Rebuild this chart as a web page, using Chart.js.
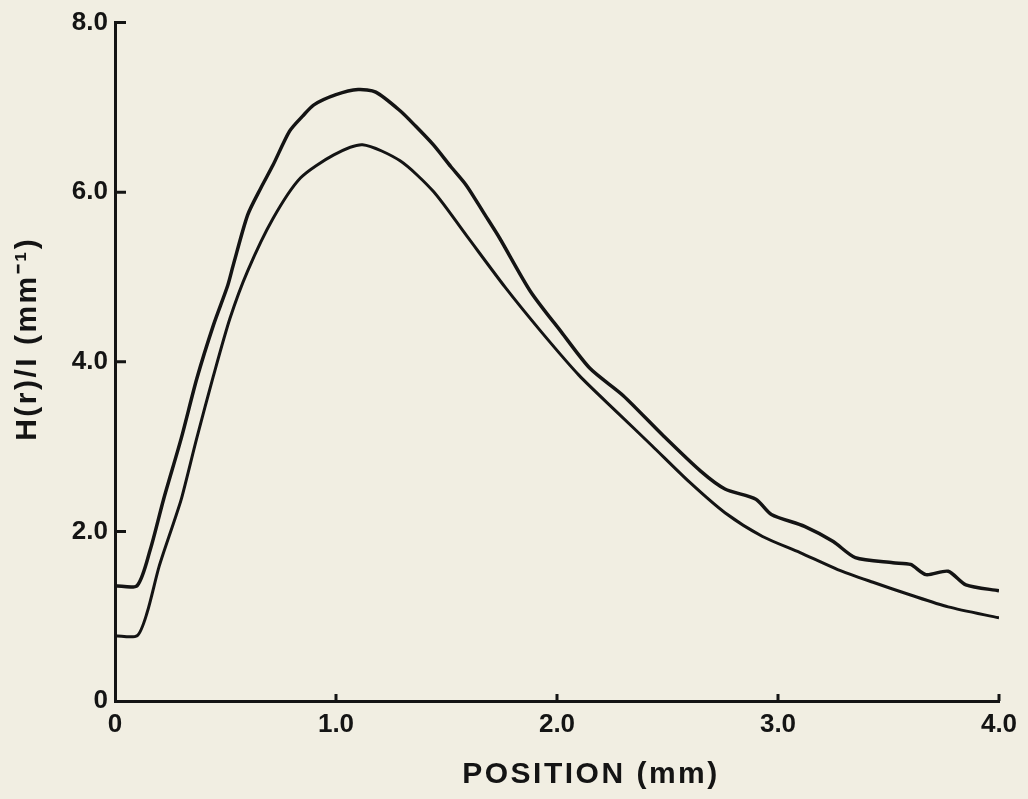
<!DOCTYPE html>
<html>
<head>
<meta charset="utf-8">
<script src="https://cdn.jsdelivr.net/npm/chart.js@4"></script>
<style>
  html, body { margin: 0; padding: 0; background: #f1eee2; }
  #wrap { width: 1028px; height: 799px; position: relative; }
</style>
</head>
<body>
<div id="wrap"><canvas id="chart"></canvas></div>
<script>
'use strict';

// upper curve
const upperX = [0, 0.10, 0.16, 0.22, 0.30, 0.37, 0.445, 0.51, 0.535, 0.60, 0.66, 0.715, 0.79, 0.85, 0.90, 1.00, 1.10, 1.18, 1.29, 1.36, 1.44, 1.52, 1.59, 1.67, 1.74, 1.88, 2.02, 2.15, 2.30, 2.48, 2.65, 2.76, 2.90, 2.97, 3.12, 3.25, 3.35, 3.52, 3.60, 3.67, 3.77, 3.85, 4.00];
const upperY = [1.36, 1.36, 1.79, 2.38, 3.10, 3.80, 4.43, 4.90, 5.14, 5.73, 6.05, 6.32, 6.72, 6.90, 7.03, 7.15, 7.21, 7.18, 6.96, 6.78, 6.56, 6.30, 6.08, 5.75, 5.46, 4.83, 4.35, 3.92, 3.60, 3.13, 2.71, 2.50, 2.38, 2.20, 2.06, 1.88, 1.69, 1.63, 1.61, 1.49, 1.53, 1.37, 1.30];

// lower curve
const lowerX = [0, 0.10, 0.145, 0.20, 0.265, 0.30, 0.37, 0.445, 0.52, 0.60, 0.715, 0.84, 0.99, 1.12, 1.29, 1.44, 1.59, 1.765, 1.93, 2.10, 2.27, 2.43, 2.60, 2.76, 2.93, 3.10, 3.27, 3.43, 3.60, 3.77, 4.00];
const lowerY = [0.77, 0.77, 1.04, 1.59, 2.10, 2.38, 3.10, 3.83, 4.51, 5.07, 5.69, 6.17, 6.44, 6.56, 6.37, 6.01, 5.49, 4.88, 4.35, 3.84, 3.41, 3.01, 2.58, 2.22, 1.94, 1.75, 1.55, 1.40, 1.25, 1.11, 0.98];

const xTicks = [0, 1, 2, 3, 4];
const yTicks = [0, 2, 4, 6, 8];
const xTitle = 'POSITION (mm)';
const yTitle = 'H(r)/I (mm\u207B\u00B9)';

const INK = '#141414';
const FONT = "'Liberation Sans', Arial, sans-serif";

function toPoints(xs, ys) { return xs.map((x, i) => ({ x, y: ys[i] })); }
function fmt(v) { return v === 0 ? '0' : v.toFixed(1); }

// paper background
const paperBg = {
  id: 'paperBg',
  beforeDraw(chart) {
    const { ctx, width, height } = chart;
    ctx.save();
    ctx.fillStyle = '#f1eee2';
    ctx.fillRect(0, 0, width, height);
    ctx.restore();
  }
};

// inward tick marks + axis titles
const axisDecor = {
  id: 'axisDecor',
  afterDraw(chart) {
    const { ctx, chartArea, scales } = chart;
    ctx.save();
    ctx.strokeStyle = INK;
    ctx.lineWidth = 3;
    ctx.beginPath();
    yTicks.forEach((v) => {
      if (v === 0) return;
      const py = scales.y.getPixelForValue(v);
      ctx.moveTo(chartArea.left, py);
      ctx.lineTo(chartArea.left + 11, py);
    });
    xTicks.forEach((v) => {
      if (v === 0) return;
      const px = scales.x.getPixelForValue(v);
      ctx.moveTo(px, chartArea.bottom);
      ctx.lineTo(px, chartArea.bottom - 7);
    });
    ctx.stroke();

    ctx.fillStyle = INK;
    ctx.font = `bold 30px ${FONT}`;
    ctx.textAlign = 'center';
    ctx.textBaseline = 'middle';
    if ('letterSpacing' in ctx) ctx.letterSpacing = '2.5px';
    const cx = (chartArea.left + chartArea.right) / 2 + 34;
    ctx.fillText(xTitle, cx, chartArea.bottom + 74);

    const cy = (chartArea.top + chartArea.bottom) / 2 - 23;
    ctx.translate(28, cy);
    ctx.rotate(-Math.PI / 2);
    ctx.fillText(yTitle, 0, 0);
    ctx.restore();
  }
};

const data = {
  datasets: [
    { label: 'upper', data: toPoints(upperX, upperY), borderColor: INK, borderWidth: 3.5 },
    { label: 'lower', data: toPoints(lowerX, lowerY), borderColor: INK, borderWidth: 3 }
  ]
};

const options = {
  responsive: true,
  maintainAspectRatio: false,
  animation: false,
  layout: { padding: { top: 20, right: 29, left: 0, bottom: 0 } },
  elements: {
    point: { radius: 0 },
    line: { tension: 0.25, fill: false }
  },
  plugins: { legend: { display: false }, tooltip: { enabled: false } },
  scales: {
    x: {
      type: 'linear',
      min: 0,
      max: 4,
      afterBuildTicks(scale) { scale.ticks = xTicks.map((v) => ({ value: v })); },
      afterFit(scale) { scale.height = 98; },
      grid: { display: false, drawTicks: false },
      border: { display: true, color: INK, width: 3 },
      ticks: {
        color: INK,
        padding: 8,
        maxRotation: 0,
        font: { family: FONT, size: 26, weight: 'bold' },
        callback: (v) => fmt(v)
      }
    },
    y: {
      type: 'linear',
      min: 0,
      max: 8,
      afterBuildTicks(scale) { scale.ticks = yTicks.map((v) => ({ value: v })); },
      afterFit(scale) { scale.width = 115; },
      grid: { display: false, drawTicks: false },
      border: { display: true, color: INK, width: 3 },
      ticks: {
        color: INK,
        padding: 7,
        font: { family: FONT, size: 26, weight: 'bold' },
        callback: (v) => fmt(v)
      }
    }
  }
};

new Chart(document.getElementById('chart'), {
  type: 'line',
  data,
  options,
  plugins: [paperBg, axisDecor]
});
</script>
</body>
</html>
